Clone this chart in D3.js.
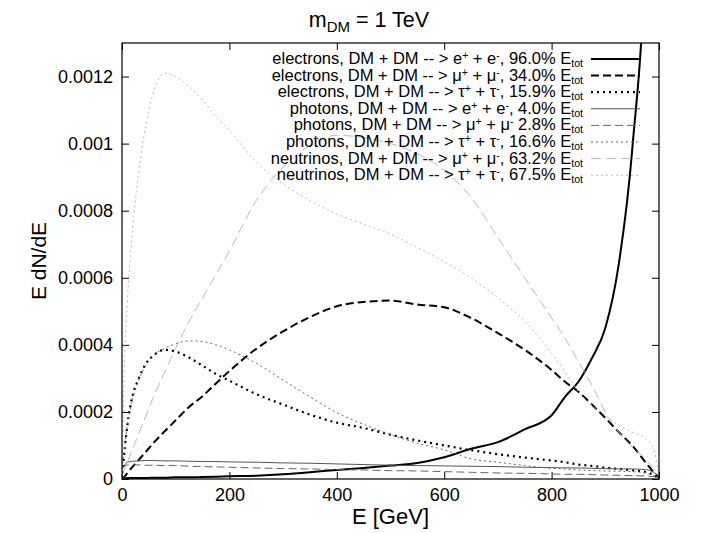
<!DOCTYPE html>
<html><head><meta charset="utf-8">
<script src="https://cdn.jsdelivr.net/npm/d3@7"></script>
<style>
body{margin:0;background:#fff}
text{font-family:"Liberation Sans", Arial, Helvetica, sans-serif; fill:#000}
</style></head>
<body><svg id="c" width="712" height="533"></svg>
<script>
// ---------------- data ----------------
const energy = [0,5,10,20,30,45,60,80,100,125,150,175,200,250,300,350,400,450,500,550,600,650,700,750,800,825,850,875,900,925,950,975,990,1000];

const electronsEE = [0.000002,0.000002,0.000003,0.000003,0.000003,0.000003,0.000004,0.000004,0.000005,0.000005,0.000006,0.000007,0.000008,0.00001,0.000014,0.00002,0.000027,0.000033,0.00004,0.000048,0.000065,0.00009,0.00011,0.000148,0.00019,0.000245,0.00029,0.00036,0.00045,0.00064,0.00098,0.0016,0.0025,0.003];
const electronsMuMu = [0,0.000008,0.000018,0.000037,0.000055,0.000082,0.00011,0.000143,0.000175,0.000215,0.000247,0.000285,0.000322,0.000388,0.00044,0.000483,0.000515,0.000528,0.000532,0.00052,0.000512,0.00048,0.000435,0.000385,0.000325,0.00029,0.00026,0.000222,0.000182,0.00014,0.0001,0.00005,0.00002,0.000005];
const electronsTauTau = [0,0.00009,0.00016,0.00025,0.000295,0.000345,0.00037,0.000385,0.00038,0.000362,0.000338,0.000313,0.000293,0.000253,0.000222,0.000192,0.000168,0.000152,0.000132,0.000115,0.0001,0.000086,0.000074,0.000064,0.000055,0.00005,0.000043,0.000039,0.000034,0.00003,0.000026,0.000021,0.000012,0];
const photonsEE = [0.00003,0.000042,0.00005,0.000053,0.000054,0.000055,0.000055,0.000054,0.000054,0.000053,0.000052,0.000052,0.000051,0.00005,0.000048,0.000047,0.000045,0.000043,0.000041,0.00004,0.000039,0.000038,0.000037,0.000035,0.000034,0.000033,0.000033,0.000032,0.000031,0.00003,0.00003,0.000028,0.00002,0.000008];
const photonsMuMu = [0.00003,0.000038,0.000042,0.000042,0.000042,0.000041,0.000041,0.00004,0.00004,0.000038,0.000037,0.000036,0.000035,0.000033,0.000031,0.00003,0.000028,0.000027,0.000025,0.000024,0.000022,0.00002,0.000018,0.000017,0.000015,0.000014,0.000014,0.000013,0.000012,0.000011,0.00001,0.000009,0.000007,0.000004];
const photonsTauTau = [0.00003,0.0001,0.00016,0.00024,0.00029,0.00034,0.00037,0.00039,0.000403,0.000412,0.00041,0.0004,0.000385,0.000345,0.000295,0.000245,0.000198,0.000163,0.000133,0.000107,0.000087,0.00006,0.00005,0.00004,0.000032,0.00003,0.000027,0.000025,0.000024,0.000023,0.000022,0.000018,0.00001,0.000005];
const neutrinosMuMu = [0.00001,0.00003,0.00005,0.00009,0.00013,0.00019,0.00025,0.00032,0.00039,0.00047,0.00054,0.00061,0.00068,0.00083,0.00093,0.000995,0.001025,0.001018,0.001,0.00097,0.00092,0.00084,0.00072,0.0006,0.00048,0.00042,0.00035,0.00028,0.0002,0.00014,0.000095,0.00006,0.00003,0.00001];
const neutrinosTauTau = [0.00002,0.00037,0.00053,0.00075,0.0009,0.00106,0.00116,0.00121,0.0012,0.00117,0.00113,0.00108,0.00104,0.000945,0.00088,0.00083,0.00079,0.00076,0.00073,0.00069,0.000648,0.0006,0.00054,0.00047,0.000375,0.00032,0.00026,0.00022,0.00019,0.00016,0.00014,0.00012,0.00009,0.00001];

const legendParticles = ["electrons","electrons","electrons","photons","photons","photons","neutrinos","neutrinos"];
const legendSymbols = ["e","\u03bc","\u03c4","e","\u03bc","\u03c4","\u03bc","\u03c4"];
const legendSeparators = [", ",", ",", ",", "," ",", ",", ",", "];
const legendFractions = ["96.0","34.0","15.9","4.0","2.8","16.6","63.2","67.5"];

const xTicks = [0,200,400,600,800,1000];
const yTicks = [0,0.0002,0.0004,0.0006,0.0008,0.001,0.0012];
const xDomain = [0,1000];
const yDomain = [0,0.0013];

// ---------------- styles ----------------
const seriesData = [electronsEE, electronsMuMu, electronsTauTau, photonsEE, photonsMuMu, photonsTauTau, neutrinosMuMu, neutrinosTauTau];
const styles = [
  {color:"#000", width:2, dash:null},
  {color:"#000", width:2, dash:"8,4"},
  {color:"#000", width:2.2, dash:"2,4"},
  {color:"#555", width:1, dash:null},
  {color:"#666", width:1, dash:"8,4"},
  {color:"#666", width:1, dash:"2,3"},
  {color:"#bbb", width:1, dash:"10,5"},
  {color:"#bbb", width:1, dash:"2,3"}
];

// ---------------- layout ----------------
const L = 122, R = 659, T = 43, B = 479;
const svg = d3.select("#c");
const x = d3.scaleLinear().domain(xDomain).range([L, R]);
const y = d3.scaleLinear().domain(yDomain).range([B, T]);

svg.append("defs").append("clipPath").attr("id","clip")
  .append("rect").attr("x",L).attr("y",T).attr("width",R-L).attr("height",B-T);

// axes
const fmtY = d => d === 0 ? "0" : String(+d.toFixed(4));
const gx = svg.append("g").attr("transform",`translate(0,${B})`)
  .call(d3.axisBottom(x).tickValues(xTicks).tickSizeInner(-7).tickSizeOuter(0).tickPadding(9).tickFormat(d3.format("d")));
const gy = svg.append("g").attr("transform",`translate(${L},0)`)
  .call(d3.axisLeft(y).tickValues(yTicks).tickSizeInner(-7).tickSizeOuter(0).tickPadding(9).tickFormat(fmtY));
const gt = svg.append("g").attr("transform",`translate(0,${T})`)
  .call(d3.axisTop(x).tickValues(xTicks).tickSizeInner(-7).tickSizeOuter(0).tickFormat(""));
const gr = svg.append("g").attr("transform",`translate(${R},0)`)
  .call(d3.axisRight(y).tickValues(yTicks).tickSizeInner(-7).tickSizeOuter(0).tickFormat(""));
[gx,gy,gt,gr].forEach(g => {
  g.select(".domain").remove();
  g.selectAll("line").attr("stroke","#000").attr("stroke-width",1);
  g.selectAll("text").style("font-size","18px").attr("fill","#000");
});

// curves
const line = d3.line().x((d,i)=>x(energy[i])).y(d=>y(d)).curve(d3.curveMonotoneX);
const plot = svg.append("g").attr("clip-path","url(#clip)");
seriesData.forEach((s,k)=>{
  const st = styles[k];
  plot.append("path").attr("d", line(s)).attr("fill","none")
    .attr("stroke", st.color).attr("stroke-width", st.width)
    .attr("stroke-dasharray", st.dash);
});

// frame
svg.append("rect").attr("x",L).attr("y",T).attr("width",R-L).attr("height",B-T)
  .attr("fill","none").attr("stroke","#000").attr("stroke-width",1.2);

// legend
const legY0 = 59, legDy = 16.6, textRight = 583, sampleX0 = 591, sampleX1 = 640;
legendParticles.forEach((p,i)=>{
  const yy = legY0 + i*legDy;
  const t = svg.append("text").attr("x",textRight).attr("y",yy+5)
    .attr("text-anchor","end").style("font-size","16.5px");
  t.append("tspan").text(`${p}, DM + DM -- > ${legendSymbols[i]}`);
  t.append("tspan").attr("dy",-5).style("font-size","10.5px").text("+");
  t.append("tspan").attr("dy",5).text(` + ${legendSymbols[i]}`);
  t.append("tspan").attr("dy",-5).style("font-size","10.5px").text("-");
  t.append("tspan").attr("dy",5).text(`${legendSeparators[i]}${legendFractions[i]}% E`);
  t.append("tspan").attr("dy",3).style("font-size","10.5px").text("tot");
  const st = styles[i];
  svg.append("line").attr("x1",sampleX0).attr("x2",sampleX1).attr("y1",yy).attr("y2",yy)
    .attr("stroke",st.color).attr("stroke-width",st.width).attr("stroke-dasharray",st.dash);
});

// title
const title = svg.append("text").attr("x",369).attr("y",27).attr("text-anchor","middle").style("font-size","21.5px");
title.append("tspan").text("m");
title.append("tspan").attr("dy",5).style("font-size","15px").text("DM");
title.append("tspan").attr("dy",-5).text(" = 1 TeV");

// axis labels
svg.append("text").attr("x",(L+R)/2).attr("y",524).attr("text-anchor","middle").style("font-size","22px").text("E [GeV]");
svg.append("text").attr("transform",`translate(46,${(T+B)/2}) rotate(-90)`).attr("text-anchor","middle").style("font-size","21px").text("E dN/dE");
</script></body></html>
